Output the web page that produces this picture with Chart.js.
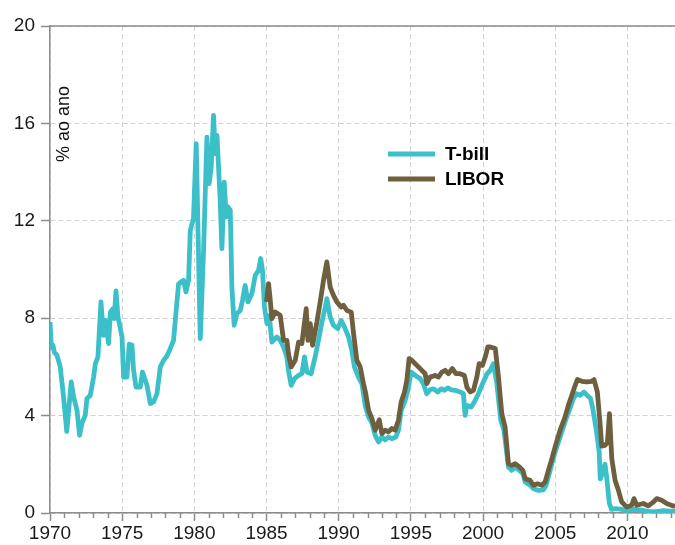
<!DOCTYPE html>
<html lang="pt">
<head>
  <meta charset="UTF-8" />
  <title>T-bill x LIBOR</title>
  <style>
    html, body { margin: 0; padding: 0; background: #fff; }
    #wrap { width: 675px; height: 545px; position: relative; }
  </style>
</head>
<body>
  <div id="wrap">
    <canvas id="grafico"></canvas>
  </div>

<script src="https://cdn.jsdelivr.net/npm/chart.js"></script>
<script>
  // dados (ano decimal, % ao ano)
  const tbillAnos = [1970.00, 1970.10, 1970.20, 1970.30, 1970.48, 1970.71, 1970.94, 1971.16, 1971.47, 1971.64, 1971.87, 1972.05, 1972.21, 1972.44, 1972.56, 1972.79, 1973.02, 1973.14, 1973.32, 1973.53, 1973.71, 1973.83, 1974.06, 1974.18, 1974.36, 1974.45, 1974.57, 1974.71, 1974.99, 1975.10, 1975.33, 1975.49, 1975.68, 1975.79, 1975.96, 1976.25, 1976.41, 1976.72, 1976.95, 1977.18, 1977.41, 1977.64, 1977.87, 1978.10, 1978.33, 1978.56, 1978.68, 1978.91, 1979.25, 1979.42, 1979.60, 1979.72, 1979.94, 1980.13, 1980.41, 1980.64, 1980.87, 1981.03, 1981.17, 1981.33, 1981.45, 1981.57, 1981.79, 1981.91, 1982.07, 1982.21, 1982.33, 1982.49, 1982.60, 1982.76, 1982.95, 1983.18, 1983.34, 1983.52, 1983.71, 1983.99, 1984.22, 1984.45, 1984.60, 1984.72, 1984.86, 1985.03, 1985.19, 1985.37, 1985.72, 1985.95, 1986.18, 1986.41, 1986.52, 1986.71, 1986.94, 1987.22, 1987.45, 1987.63, 1987.80, 1988.09, 1988.37, 1988.60, 1988.84, 1989.07, 1989.18, 1989.41, 1989.64, 1989.94, 1990.17, 1990.40, 1990.68, 1990.91, 1991.09, 1991.37, 1991.61, 1991.84, 1992.07, 1992.30, 1992.53, 1992.76, 1992.99, 1993.22, 1993.45, 1993.68, 1993.96, 1994.14, 1994.33, 1994.61, 1994.79, 1995.02, 1995.30, 1995.64, 1995.87, 1996.10, 1996.33, 1996.56, 1996.87, 1997.10, 1997.33, 1997.56, 1997.79, 1998.07, 1998.41, 1998.64, 1998.76, 1998.88, 1999.17, 1999.40, 1999.68, 1999.96, 2000.26, 2000.50, 2000.72, 2000.96, 2001.23, 2001.45, 2001.76, 2001.99, 2002.22, 2002.52, 2002.76, 2002.92, 2003.26, 2003.49, 2003.84, 2004.18, 2004.37, 2004.65, 2004.99, 2005.34, 2005.68, 2005.98, 2006.26, 2006.49, 2006.72, 2006.99, 2007.22, 2007.45, 2007.60, 2007.85, 2008.05, 2008.12, 2008.30, 2008.45, 2008.58, 2008.75, 2008.90, 2009.20, 2009.60, 2010.00, 2010.50, 2011.00, 2011.50, 2012.00, 2012.50, 2013.00, 2013.30];
  const tbillValores = [7.84, 6.8, 6.9, 6.6, 6.48, 6.0, 4.76, 3.35, 5.38, 4.76, 4.22, 3.19, 3.68, 4.01, 4.7, 4.83, 5.58, 6.13, 6.41, 8.67, 7.3, 7.91, 6.96, 8.25, 8.39, 7.98, 9.12, 8.05, 7.23, 5.58, 5.58, 6.93, 6.9, 5.86, 5.17, 5.17, 5.79, 5.24, 4.49, 4.56, 4.9, 6.0, 6.27, 6.45, 6.75, 7.09, 7.91, 9.42, 9.56, 9.08, 9.56, 11.61, 12.09, 15.17, 7.16, 10.79, 15.44, 13.53, 14.21, 16.33, 14.76, 15.51, 12.84, 10.86, 13.59, 12.16, 12.57, 12.43, 9.28, 7.71, 8.19, 8.32, 8.74, 9.35, 8.67, 9.01, 9.76, 9.97, 10.45, 9.97, 8.46, 7.78, 8.1, 7.02, 7.23, 7.09, 6.82, 6.41, 5.86, 5.24, 5.52, 5.65, 5.72, 6.41, 5.79, 5.72, 6.41, 7.09, 7.84, 8.46, 8.8, 8.05, 7.71, 7.57, 7.91, 7.64, 7.23, 6.68, 6.0, 5.58, 5.31, 4.4, 3.94, 3.7, 3.19, 2.92, 3.12, 3.0, 3.12, 3.05, 3.12, 3.4, 4.22, 4.63, 5.04, 5.79, 5.65, 5.52, 5.31, 4.9, 5.06, 5.1, 4.97, 5.1, 5.04, 5.14, 5.06, 5.04, 4.97, 4.9, 4.01, 4.42, 4.35, 4.56, 4.9, 5.3, 5.7, 5.86, 6.13, 5.31, 3.81, 3.4, 1.89, 1.75, 1.89, 1.75, 1.62, 1.27, 1.14, 1.0, 0.93, 0.95, 1.14, 1.75, 2.5, 3.12, 3.74, 4.22, 4.7, 4.9, 4.83, 4.97, 4.83, 4.7, 4.3, 3.4, 2.5, 1.4, 1.7, 2.0, 1.4, 0.4, 0.15, 0.18, 0.15, 0.1, 0.15, 0.12, 0.06, 0.06, 0.1, 0.08, 0.08];

  const liborAnos = [1985.00, 1985.14, 1985.26, 1985.37, 1985.60, 1985.95, 1986.18, 1986.41, 1986.52, 1986.71, 1986.99, 1987.22, 1987.45, 1987.75, 1987.87, 1988.03, 1988.19, 1988.49, 1988.72, 1988.95, 1989.18, 1989.41, 1989.64, 1989.87, 1990.17, 1990.33, 1990.57, 1990.87, 1991.03, 1991.26, 1991.49, 1991.72, 1991.84, 1992.07, 1992.30, 1992.53, 1992.81, 1992.99, 1993.22, 1993.45, 1993.68, 1993.91, 1994.14, 1994.33, 1994.56, 1994.72, 1994.88, 1995.07, 1995.30, 1995.53, 1995.76, 1995.99, 1996.10, 1996.33, 1996.68, 1996.91, 1997.15, 1997.38, 1997.60, 1997.88, 1998.12, 1998.41, 1998.71, 1998.88, 1999.11, 1999.34, 1999.57, 1999.73, 1999.96, 2000.19, 2000.33, 2000.50, 2000.85, 2001.07, 2001.30, 2001.53, 2001.76, 2001.99, 2002.22, 2002.52, 2002.76, 2002.92, 2003.26, 2003.49, 2003.77, 2004.07, 2004.30, 2004.53, 2004.77, 2005.06, 2005.34, 2005.68, 2005.91, 2006.15, 2006.38, 2006.54, 2006.84, 2007.19, 2007.53, 2007.69, 2007.92, 2008.11, 2008.22, 2008.45, 2008.62, 2008.76, 2008.92, 2009.15, 2009.38, 2009.61, 2009.95, 2010.30, 2010.46, 2010.65, 2011.10, 2011.45, 2011.80, 2012.03, 2012.38, 2012.72, 2013.18, 2013.30];
  const liborValores = [8.67, 9.42, 8.74, 7.98, 8.25, 8.12, 7.09, 7.09, 6.55, 6.0, 6.27, 7.02, 6.96, 8.39, 7.09, 7.78, 6.89, 7.84, 8.67, 9.56, 10.31, 9.28, 8.94, 8.67, 8.46, 8.53, 8.32, 8.25, 7.37, 6.27, 6.0, 5.31, 5.0, 4.22, 3.88, 3.4, 3.83, 3.26, 3.4, 3.33, 3.47, 3.4, 3.81, 4.56, 4.97, 5.45, 6.34, 6.27, 6.13, 6.0, 5.86, 5.72, 5.31, 5.58, 5.65, 5.58, 5.79, 5.86, 5.72, 5.93, 5.72, 5.72, 5.65, 5.17, 4.97, 5.04, 5.58, 6.13, 6.06, 6.48, 6.82, 6.82, 6.75, 5.58, 4.08, 3.53, 2.03, 1.96, 2.03, 1.89, 1.75, 1.41, 1.34, 1.14, 1.2, 1.14, 1.27, 1.75, 2.23, 2.85, 3.4, 3.94, 4.42, 4.83, 5.24, 5.48, 5.41, 5.38, 5.41, 5.48, 4.97, 3.67, 2.75, 2.78, 2.9, 4.08, 2.23, 1.34, 0.93, 0.45, 0.25, 0.32, 0.59, 0.32, 0.39, 0.29, 0.45, 0.59, 0.52, 0.39, 0.29, 0.28];

  const yTicks = [0, 4, 8, 12, 16, 20];
  const tituloY = '% ao ano';

  const corTbill = '#3BC0CA';
  const corLibor = '#6E603E';
  const corEixo = '#8c8c8c';
  const corGrade = '#d2d2d2';
  const fonte = '"Liberation Sans", Arial, sans-serif';

  const pares = (xs, ys) => xs.map((x, i) => ({ x: x, y: ys[i] }));

  // titulo do eixo y, legenda, borda de cima e tracinhos menores do eixo x
  const extras = {
    id: 'extras',
    afterDraw(chart) {
      const { ctx, chartArea: a } = chart;
      const sx = chart.scales.x;
      ctx.save();
      ctx.strokeStyle = corEixo;
      ctx.lineWidth = 1.5;
      ctx.beginPath();
      ctx.moveTo(a.left, a.top);
      ctx.lineTo(a.right, a.top);
      for (let ano = Math.ceil(sx.min); ano <= sx.max; ano++) {
        if (ano % 5 === 0) continue;
        const px = Math.round(sx.getPixelForValue(ano)) + 0.5;
        ctx.moveTo(px, a.bottom);
        ctx.lineTo(px, a.bottom + 5);
      }
      ctx.stroke();

      ctx.translate(64, 124);
      ctx.rotate(-Math.PI / 2);
      ctx.fillStyle = '#111';
      ctx.font = '18px ' + fonte;
      ctx.textAlign = 'center';
      ctx.textBaseline = 'middle';
      ctx.fillText(tituloY, 0, 0);
      ctx.restore();

      ctx.save();
      ctx.font = 'bold 19px ' + fonte;
      ctx.textBaseline = 'middle';
      ctx.lineWidth = 5;
      chart.data.datasets.forEach((ds, i) => {
        const y = 154 + i * 25;
        ctx.strokeStyle = ds.borderColor;
        ctx.beginPath();
        ctx.moveTo(388, y);
        ctx.lineTo(435, y);
        ctx.stroke();
        ctx.fillStyle = '#000';
        ctx.fillText(ds.label, 445, y + 1);
      });
      ctx.restore();
    }
  };

  new Chart(document.getElementById('grafico'), {
    type: 'line',
    data: {
      datasets: [
        {
          label: 'T-bill',
          data: pares(tbillAnos, tbillValores),
          borderColor: corTbill,
          borderWidth: 4.8,
          pointRadius: 0,
          tension: 0,
          borderJoinStyle: 'round',
          order: 1
        },
        {
          label: 'LIBOR',
          data: pares(liborAnos, liborValores),
          borderColor: corLibor,
          borderWidth: 4.8,
          pointRadius: 0,
          tension: 0,
          borderJoinStyle: 'round',
          order: 0
        }
      ]
    },
    options: {
      responsive: true,
      maintainAspectRatio: false,
      animation: false,
      layout: { padding: { top: 26, left: 0, right: 0, bottom: 0 } },
      plugins: {
        legend: { display: false },
        tooltip: { enabled: false }
      },
      scales: {
        x: {
          type: 'linear',
          min: 1970,
          max: 2013.3,
          afterFit(scale) { scale.height = 32; },
          ticks: {
            stepSize: 1,
            includeBounds: false,
            autoSkip: false,
            maxRotation: 0,
            padding: 1,
            color: '#1a1a1a',
            font: { family: fonte, size: 19 },
            callback: (v) => (v % 5 === 0 ? String(v) : '')
          },
          grid: {
            color: (c) => (c.tick && c.tick.value % 5 === 0 ? corGrade : 'rgba(0,0,0,0)'),
            tickColor: (c) => (c.tick && c.tick.value % 5 === 0 ? corEixo : 'rgba(0,0,0,0)'),
            tickLength: 8,
            tickWidth: 1.5,
            lineWidth: 1
          },
          border: { display: true, color: corEixo, width: 1.5, dash: [5, 3] }
        },
        y: {
          min: 0,
          max: 20,
          afterFit(scale) { scale.width = 50; },
          afterBuildTicks(scale) { scale.ticks = yTicks.map(v => ({ value: v })); },
          ticks: {
            padding: 6,
            color: '#1a1a1a',
            font: { family: fonte, size: 19 }
          },
          grid: {
            color: corGrade,
            tickColor: corEixo,
            tickLength: 9,
            tickWidth: 1.5,
            lineWidth: 1
          },
          border: { display: true, color: corEixo, width: 1.5, dash: [5, 3] }
        }
      }
    },
    plugins: [extras]
  });
</script>
</body>
</html>
